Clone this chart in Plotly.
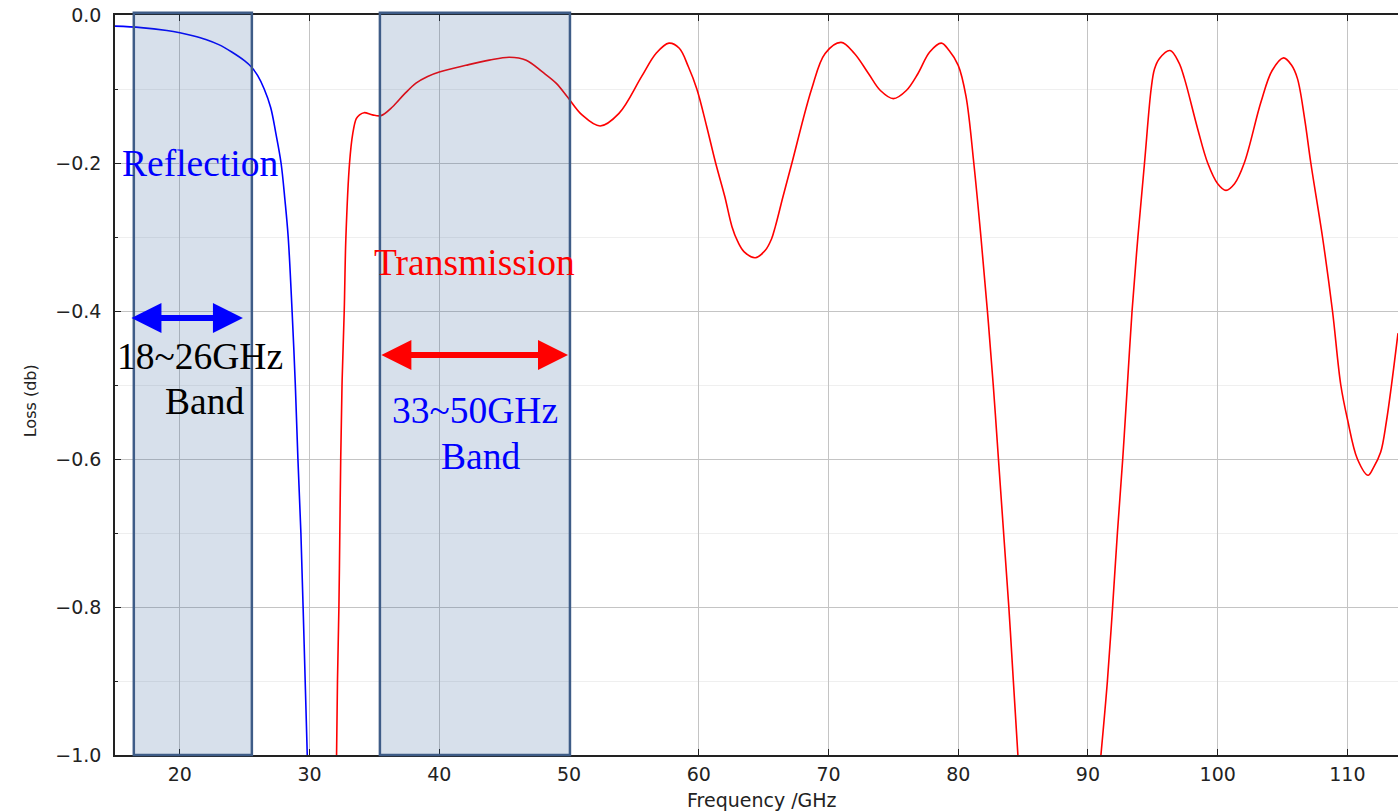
import plotly.graph_objects as go

# ---- data ----
refl_x = [15, 17, 19, 20, 21, 22, 23, 24, 25, 25.5, 26, 26.5, 27, 27.4, 27.8,
          28.1, 28.35, 28.65, 28.9, 29.1, 29.33, 29.5, 29.66, 29.82]
refl_y = [-0.015, -0.017, -0.021, -0.024, -0.028, -0.033, -0.040, -0.050, -0.062,
          -0.070, -0.082, -0.100, -0.125, -0.160, -0.200, -0.250, -0.300, -0.400,
          -0.500, -0.600, -0.700, -0.800, -0.900, -1.000]

trans_x1 = [32.08, 32.15, 32.26, 32.33, 32.4, 32.5, 32.67, 32.8, 33.08, 33.33, 33.6,
            33.85, 34.2, 34.85, 35.5, 36.4, 37.3, 38.2, 39.1, 40.0, 42.05, 43.85,
            45.4, 46.7, 47.95, 49.0, 49.85, 51.0, 52.4, 53.85, 55.6, 56.7, 57.7,
            58.5, 59.2, 59.85, 60.6, 61.3, 62.0, 62.56, 63.0, 63.5, 64.36, 65.13,
            65.6, 65.9, 66.5, 67.18, 68.7, 69.74, 70.97, 72.0, 73.08, 74.0, 75.0,
            76.0, 76.9, 77.8, 78.7, 79.3, 80.0, 80.6, 81.2, 81.75, 82.25, 82.7,
            83.1, 83.5, 83.9, 84.25, 84.6]
trans_y1 = [-1.0, -0.9, -0.8, -0.7, -0.6, -0.5, -0.4, -0.3, -0.2, -0.16, -0.14,
            -0.135, -0.132, -0.135, -0.136, -0.124, -0.107, -0.092, -0.083, -0.077,
            -0.068, -0.061, -0.057, -0.061, -0.077, -0.092, -0.110, -0.135, -0.150,
            -0.133, -0.083, -0.052, -0.038, -0.045, -0.070, -0.100, -0.150, -0.200,
            -0.245, -0.286, -0.306, -0.320, -0.328, -0.318, -0.303, -0.286, -0.245,
            -0.200, -0.100, -0.052, -0.037, -0.052, -0.079, -0.102, -0.113, -0.102,
            -0.079, -0.050, -0.038, -0.048, -0.068, -0.110, -0.200, -0.300, -0.400,
            -0.500, -0.600, -0.700, -0.800, -0.900, -1.000]

trans_x2 = [91.0, 91.5, 91.9, 92.27, 92.68, 93.04, 93.4, 93.85, 94.36, 94.87, 95.13,
            95.5, 96.33, 97.0, 97.44, 98.46, 99.23, 100.0, 100.64, 101.3, 102.05,
            103.33, 104.2, 105.08, 105.7, 106.15, 106.7, 107.18, 108.08, 108.85,
            109.49, 110.0, 110.77, 111.59, 112.0, 112.56, 113.0, 113.4, 113.9]
trans_y2 = [-1.0, -0.9, -0.8, -0.7, -0.6, -0.5, -0.4, -0.3, -0.2, -0.1, -0.073,
            -0.059, -0.048, -0.064, -0.086, -0.154, -0.200, -0.228, -0.237, -0.228,
            -0.200, -0.118, -0.075, -0.058, -0.068, -0.086, -0.140, -0.200, -0.300,
            -0.400, -0.500, -0.546, -0.600, -0.622, -0.612, -0.591, -0.550, -0.500,
            -0.430]

bands = [(16.45, 25.55), (35.42, 50.07)]
x_ticks = [20, 30, 40, 50, 60, 70, 80, 90, 100, 110]
y_ticks = [0.0, -0.2, -0.4, -0.6, -0.8, -1.0]

fig = go.Figure()
line_kw = dict(shape="spline", smoothing=1.0)
fig.add_trace(go.Scatter(x=refl_x, y=refl_y, mode="lines",
                         line=dict(color="#0000ff", width=1.6, **line_kw)))
fig.add_trace(go.Scatter(x=trans_x1, y=trans_y1, mode="lines",
                         line=dict(color="#ff0000", width=1.6, **line_kw)))
fig.add_trace(go.Scatter(x=trans_x2, y=trans_y2, mode="lines",
                         line=dict(color="#ff0000", width=1.6, **line_kw)))

for x0, x1 in bands:
    fig.add_shape(type="rect", xref="x", yref="paper", x0=x0, x1=x1, y0=0, y1=1.003,
                  fillcolor="rgba(40,90,150,0.19)",
                  line=dict(color="rgb(62,92,135)", width=2.5), layer="above")

serif = "Liberation Serif, Times New Roman, serif"
texts = [
    ("Reflection", 21.54, -0.2, "#0000ff"),
    ("Transmission", 42.75, -0.334, "#ff0000"),
    ("18~26GHz", 21.54, -0.462, "#000000"),
    ("Band", 21.93, -0.522, "#000000"),
    ("33~50GHz", 42.75, -0.535, "#0000ff"),
    ("Band", 43.14, -0.596, "#0000ff"),
]
for t, x, y, c in texts:
    fig.add_annotation(x=x, y=y, text=t, showarrow=False, xanchor="center",
                       yanchor="middle", font=dict(family=serif, size=37.5, color=c))

arrows = [(16.15, 24.86, -0.4095, "#0000ff"), (35.42, 49.92, -0.4595, "#ff0000")]
for a0, a1, y, c in arrows:
    fig.add_annotation(x=a1, y=y, ax=a0, ay=y, xref="x", yref="y", axref="x", ayref="y",
                       text="", showarrow=True, arrowside="end+start",
                       arrowhead=2, startarrowhead=2, arrowsize=1.0, startarrowsize=1.0,
                       arrowwidth=6, arrowcolor=c)

axis_font = dict(family="DejaVu Sans", size=19, color="#222222")
fig.add_annotation(xref="paper", yref="paper", x=0, y=0.478, xshift=-85,
                   text="Loss (db)", textangle=-90, showarrow=False,
                   xanchor="center", yanchor="middle",
                   font=dict(family="DejaVu Sans", size=16, color="#222222"))
fig.add_annotation(xref="paper", yref="paper", x=0.504, y=0, yshift=-45,
                   text="Frequency /GHz", showarrow=False,
                   xanchor="center", yanchor="middle",
                   font=dict(family="DejaVu Sans", size=19, color="#222222"))

fig.update_layout(
    width=1398, height=811,
    margin=dict(l=115, r=0, t=15, b=56),
    paper_bgcolor="white", plot_bgcolor="white",
    showlegend=False,
    xaxis=dict(range=[15, 113.9], tickvals=x_ticks, ticks="inside", ticklen=6,
               tickcolor="#222222", showline=True, linecolor="#222222", linewidth=1.5,
               mirror="ticks", showgrid=True, gridcolor="#c4c4c4", gridwidth=1,
               zeroline=False, tickfont=axis_font, ticklabelstandoff=1),
    yaxis=dict(range=[-1.0, 0.0], tickvals=y_ticks, tickformat=".1f", ticks="inside",
               ticklen=6, tickcolor="#222222", showline=True, linecolor="#222222",
               linewidth=1.5, showgrid=True, gridcolor="#c4c4c4", gridwidth=1,
               zeroline=False, tickfont=axis_font, ticklabelstandoff=8,
               minor=dict(dtick=0.1, tick0=0, ticks="inside", ticklen=3,
                          tickcolor="#222222", showgrid=True, gridcolor="#efefef")),
)

fig.write_html("out.html")
